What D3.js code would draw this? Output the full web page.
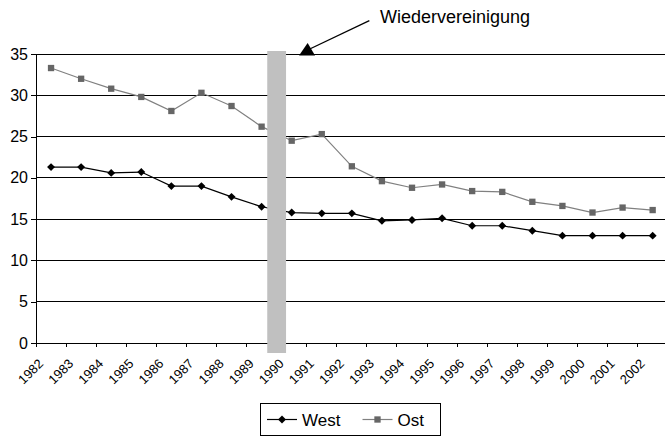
<!DOCTYPE html>
<html>
<head>
<meta charset="utf-8">
<script src="https://cdn.jsdelivr.net/npm/d3@7"></script>
<style>
  body { margin: 0; background: #fff; }
  svg { display: block; font-family: "Liberation Sans", Arial, sans-serif; }
</style>
</head>
<body>
<div id="chart"></div>
<script>
// Years and values
const years = ["1982","1983","1984","1985","1986","1987","1988","1989","1990","1991","1992",
               "1993","1994","1995","1996","1997","1998","1999","2000","2001","2002"];
const west = [21.3, 21.3, 20.6, 20.7, 19.0, 19.0, 17.7, 16.5, 15.8, 15.7, 15.7,
              14.8, 14.9, 15.1, 14.2, 14.2, 13.6, 13.0, 13.0, 13.0, 13.0];
const ost  = [33.3, 32.0, 30.8, 29.8, 28.1, 30.3, 28.7, 26.2, 24.5, 25.3, 21.4,
              19.6, 18.8, 19.2, 18.4, 18.3, 17.1, 16.6, 15.8, 16.4, 16.1];
const yTicks = [0, 5, 10, 15, 20, 25, 30, 35];
const markerYear = "1990";
const markerLabel = "Wiedervereinigung";

const width = 665, height = 436;
const plotLeft = 36, plotRight = 667.7, plotTop = 54, plotBottom = 343;

const svg = d3.select("#chart").append("svg")
    .attr("width", width)
    .attr("height", height);

const x = d3.scaleBand().domain(years).range([plotLeft, plotRight]);
const y = d3.scaleLinear().domain([0, 35]).range([plotBottom, plotTop]);
const cx = d => x(d) + x.bandwidth() / 2;

// grid lines
svg.append("g")
    .selectAll("line")
    .data(yTicks.filter(d => d > 0))
    .enter().append("line")
    .attr("x1", plotLeft).attr("x2", plotRight)
    .attr("y1", d => y(d)).attr("y2", d => y(d))
    .style("stroke", "#000")
    .style("stroke-width", 1)
    .attr("shape-rendering", "crispEdges");

// y axis
const yAxis = svg.append("g")
    .attr("transform", "translate(" + plotLeft + ",0)")
    .call(d3.axisLeft(y).tickValues(yTicks).tickSize(5).tickSizeOuter(0).tickPadding(3));
yAxis.selectAll("text").style("font-size", "16px").style("fill", "#000")
    .style("font-family", "Liberation Sans, Arial, sans-serif");
yAxis.selectAll("line, path").style("stroke", "#000").attr("shape-rendering", "crispEdges");

// x axis: ticks between categories
const xg = svg.append("g");
xg.append("line")
    .attr("x1", plotLeft).attr("x2", plotRight)
    .attr("y1", plotBottom).attr("y2", plotBottom)
    .style("stroke", "#000")
    .attr("shape-rendering", "crispEdges");
xg.selectAll(".tick")
    .data(years)
    .enter().append("line")
    .attr("x1", d => x(d)).attr("x2", d => x(d))
    .attr("y1", plotBottom).attr("y2", plotBottom + 4)
    .style("stroke", "#000")
    .attr("shape-rendering", "crispEdges");
xg.selectAll(".lbl")
    .data(years)
    .enter().append("text")
    .attr("text-anchor", "end")
    .attr("transform", d => "translate(" + (cx(d) - 7) + "," + (plotBottom + 21.5) + ") rotate(-45)")
    .style("font-size", "13px")
    .style("fill", "#000")
    .text(d => d);

// lines
const line = d3.line().x((d, i) => cx(years[i])).y(d => y(d));

svg.append("path")
    .datum(ost)
    .attr("d", line)
    .style("fill", "none")
    .style("stroke", "#808080")
    .style("stroke-width", 1.2);

svg.append("path")
    .datum(west)
    .attr("d", line)
    .style("fill", "none")
    .style("stroke", "#000")
    .style("stroke-width", 1.2);

const diamond = d3.symbol().type(d3.symbolDiamond2).size(40);
const square = d3.symbol().type(d3.symbolSquare).size(40);

svg.append("g").selectAll("path")
    .data(ost)
    .enter().append("path")
    .attr("d", square)
    .attr("transform", (d, i) => "translate(" + cx(years[i]) + "," + y(d) + ")")
    .style("fill", "#666");

svg.append("g").selectAll("path")
    .data(west)
    .enter().append("path")
    .attr("d", diamond)
    .attr("transform", (d, i) => "translate(" + cx(years[i]) + "," + y(d) + ")")
    .style("fill", "#000");

// reunification bar + annotation
const x0 = x(markerYear);
svg.append("rect")
    .attr("x", x0 - 9.4)
    .attr("y", y(35) - 3)
    .attr("width", 18.8)
    .attr("height", y(0) - y(35) + 13)
    .style("fill", "#c0c0c0");

svg.append("line")
    .attr("x1", x0 + 92.7).attr("y1", 20.7)
    .attr("x2", x0 + 31).attr("y2", 50)
    .style("stroke", "#000")
    .style("stroke-width", 1.3);
svg.append("path")
    .attr("d", d3.line()([[x0 + 22.4, y(35) + 1.5], [x0 + 38.4, y(35) + 1.5], [x0 + 31, y(35) - 11]]) + "Z")
    .style("fill", "#000");
svg.append("text")
    .attr("x", x0 + 103.4)
    .attr("y", 22.7)
    .style("font-size", "18px")
    .style("fill", "#000")
    .text(markerLabel);

// legend
const lg = svg.append("g");
lg.append("rect")
    .attr("x", 260.5).attr("y", 403.5)
    .attr("width", 180).attr("height", 32)
    .style("fill", "#fff")
    .style("stroke", "#000");
const legendItems = [
    { name: "West", color: "#000", mark: "#000", sym: diamond, x: 267 },
    { name: "Ost", color: "#808080", mark: "#666", sym: square, x: 362.5 }
];
legendItems.forEach(it => {
    lg.append("line")
        .attr("x1", it.x).attr("x2", it.x + 30)
        .attr("y1", 419.5).attr("y2", 419.5)
        .style("stroke", it.color)
        .style("stroke-width", 1.2);
    lg.append("path")
        .attr("d", it.sym)
        .attr("transform", "translate(" + (it.x + 15) + ",419.5)")
        .style("fill", it.mark);
    lg.append("text")
        .attr("x", it.x + 35)
        .attr("y", 426)
        .style("font-size", "17px")
        .style("fill", "#000")
        .text(it.name);
});
</script>
</body>
</html>
